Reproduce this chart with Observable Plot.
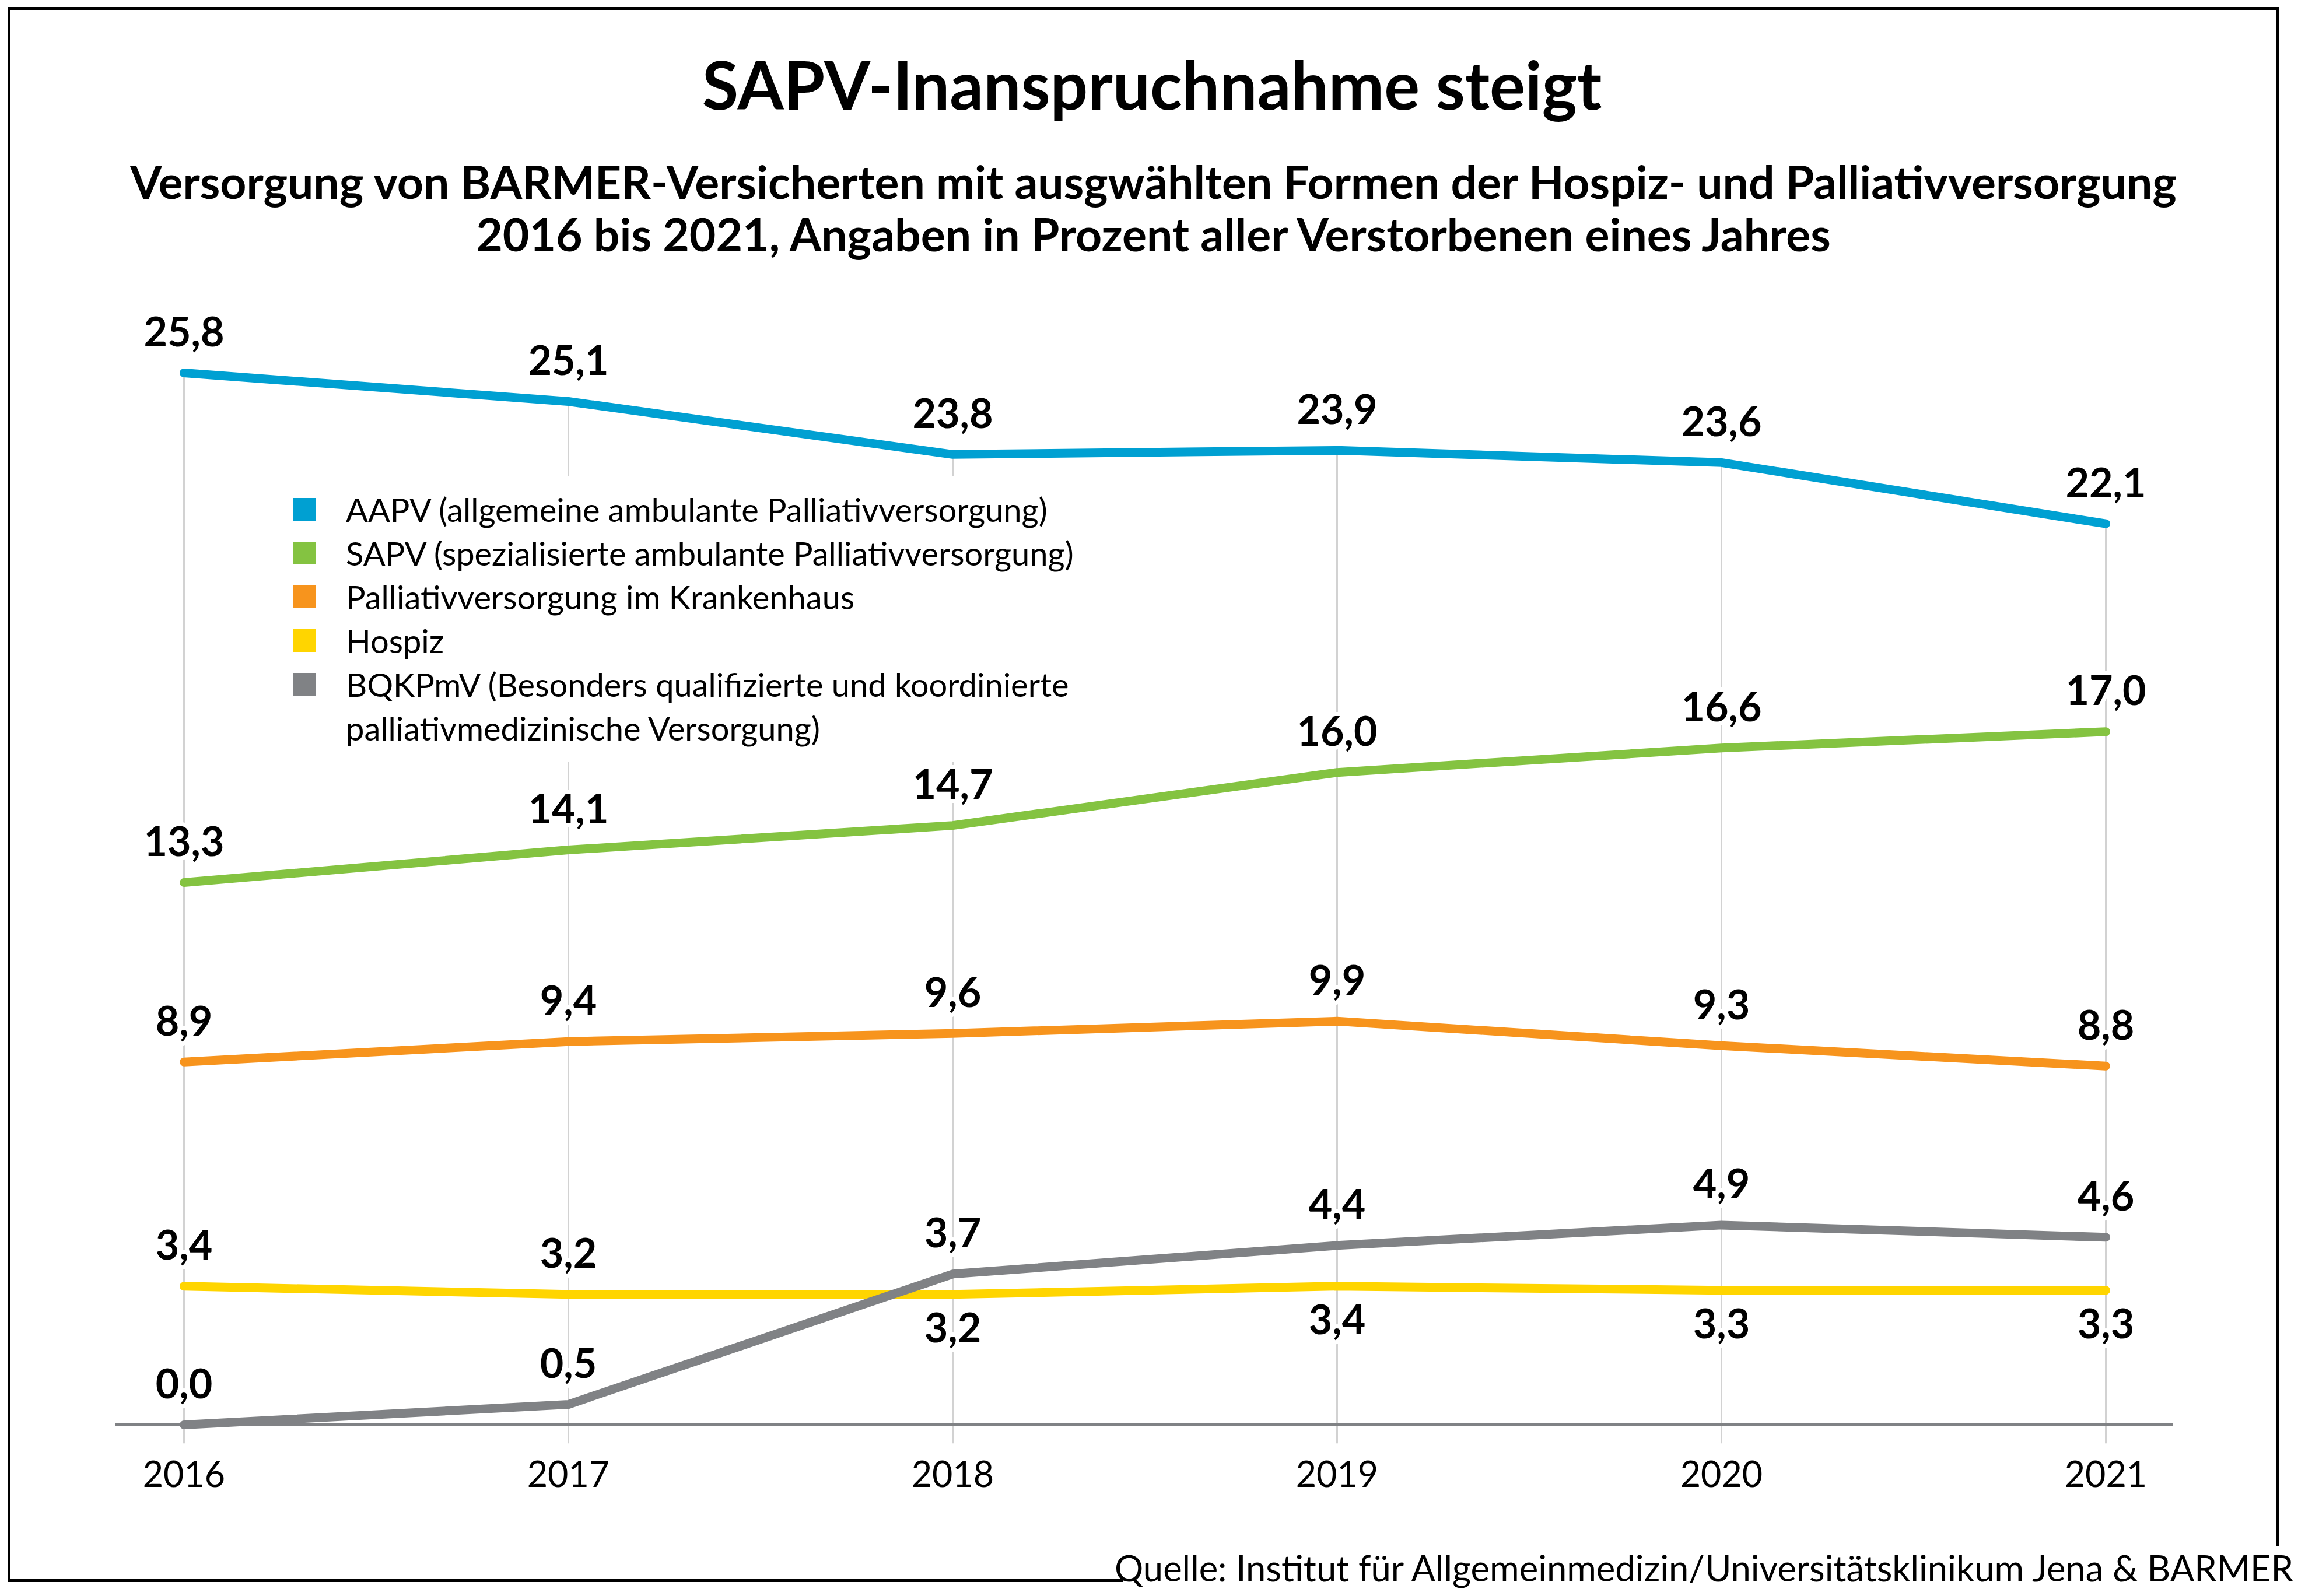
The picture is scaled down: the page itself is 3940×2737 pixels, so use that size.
<!DOCTYPE html>
<html>
<head>
<meta charset="utf-8">
<script src="https://cdn.jsdelivr.net/npm/d3@7"></script>
<script src="https://cdn.jsdelivr.net/npm/@observablehq/plot@0.6"></script>
<style>
  html, body { margin: 0; padding: 0; background: #fff; }
  #page { position: relative; width: 3940px; height: 2737px; background: #fff; font-family: Lato, "Open Sans", sans-serif; color: #000; overflow: hidden; }
  .frame { position: absolute; background: #000; }
  #title { position: absolute; left: 0; width: 3950px; top: 87px; text-align: center; font-size: 114px; font-weight: 700; line-height: 1; }
  #subtitle { position: absolute; left: 0; width: 3955px; top: 266px; text-align: center; font-size: 78.7px; font-weight: 700; line-height: 90px; }
  #chart { position: absolute; left: 0; top: 500px; }
  #legend { position: absolute; left: 480px; top: 816px; padding: 20px 20px 20px 22px; background: #fff; font-size: 56px; line-height: 75px; }
  .item { display: flex; align-items: flex-start; }
  .sw { width: 39px; height: 39px; margin-top: 18px; margin-right: 52px; flex: none; }
  .lab { white-space: pre-line; }
  #source { position: absolute; right: 8px; top: 2658px; font-size: 61.5px; line-height: 1; white-space: nowrap; }
</style>
</head>
<body>
<div id="page">
  <div class="frame" style="left:13px;top:12px;width:3895px;height:5px"></div>
  <div class="frame" style="left:13px;top:12px;width:5px;height:2701px"></div>
  <div class="frame" style="left:3903px;top:12px;width:5px;height:2640px"></div>
  <div class="frame" style="left:13px;top:2708px;width:1912px;height:5px"></div>
  <div id="title"></div>
  <div id="subtitle"></div>
  <div id="chart"></div>
  <div id="legend"></div>
  <div id="source"></div>
</div>
<script>
// ---- data ----
const years = ["2016", "2017", "2018", "2019", "2020", "2021"];
const aapv = [25.8, 25.1, 23.8, 23.9, 23.6, 22.1];
const sapv = [13.3, 14.1, 14.7, 16.0, 16.6, 17.0];
const krankenhaus = [8.9, 9.4, 9.6, 9.9, 9.3, 8.8];
const hospiz = [3.4, 3.2, 3.2, 3.4, 3.3, 3.3];
const bqkpmv = [0.0, 0.5, 3.7, 4.4, 4.9, 4.6];
const seriesKeys = ["AAPV", "SAPV", "Krankenhaus", "Hospiz", "BQKPmV"];
const legendLabels = [
  "AAPV (allgemeine ambulante Palliativversorgung)",
  "SAPV (spezialisierte ambulante Palliativversorgung)",
  "Palliativversorgung im Krankenhaus",
  "Hospiz",
  "BQKPmV (Besonders qualifizierte und koordinierte\npalliativmedizinische Versorgung)"
];
const titleText = "SAPV-Inanspruchnahme steigt";
const subtitleText = "Versorgung von BARMER-Versicherten mit ausgwählten Formen der Hospiz- und Palliativversorgung\n2016 bis 2021, Angaben in Prozent aller Verstorbenen eines Jahres";
const sourceText = "Quelle: Institut für Allgemeinmedizin/Universitätsklinikum Jena & BARMER";

// ---- styling ----
const colors = ["#00a0d2", "#84c341", "#f7941d", "#ffd500", "#808285"];

// ---- build table ----
const seriesValues = [aapv, sapv, krankenhaus, hospiz, bqkpmv];
const rows = [];
seriesKeys.forEach((s, si) => {
  years.forEach((yr, i) => {
    const v = seriesValues[si][i];
    // Hospiz labels go below when the BQKPmV line lies above it
    const below = s === "Hospiz" && bqkpmv[i] > hospiz[i];
    rows.push({series: s, year: yr, value: v, below, label: d3.format(".1f")(v).replace(".", ",")});
  });
});
const grid = years.map((yr, i) => ({year: yr, top: aapv[i]}));

document.getElementById("title").textContent = titleText;
const sub = document.getElementById("subtitle");
sub.style.whiteSpace = "pre-line";
sub.textContent = subtitleText;
document.getElementById("source").textContent = sourceText;

const legend = document.getElementById("legend");
legendLabels.forEach((l, i) => {
  const it = document.createElement("div");
  it.className = "item";
  const sw = document.createElement("div");
  sw.className = "sw";
  sw.style.background = colors[i];
  const lab = document.createElement("div");
  lab.className = "lab";
  lab.textContent = l;
  it.appendChild(sw); it.appendChild(lab);
  legend.appendChild(it);
});

const chart = Plot.plot({
  width: 3940,
  height: 2150,
  marginLeft: 197,
  marginRight: 215,
  marginTop: 100,
  marginBottom: 207,
  style: {fontFamily: "Lato, 'Open Sans', sans-serif", fontSize: "61px", color: "#000", background: "transparent"},
  x: {type: "point", domain: years, range: [313, 3612], padding: 0, label: null},
  y: {domain: [0, 25.8], range: [1943, 139], axis: null},
  color: {domain: seriesKeys, range: colors},
  marks: [
    Plot.ruleX(grid, {x: "year", y1: -0.46, y2: "top", stroke: "#d2d2d2", strokeWidth: 3}),
    Plot.ruleY([0], {stroke: "#808285", strokeWidth: 5}),
    Plot.line(rows, {x: "year", y: "value", z: "series", stroke: "series", strokeWidth: 15, strokeLinecap: "round", strokeLinejoin: "round"}),
    Plot.text(rows.filter(d => !d.below), {x: "year", y: "value", text: "label", dy: -68, fontSize: 70, fontWeight: 700, fill: "#000", stroke: "#fff", strokeWidth: 14, paintOrder: "stroke"}),
    Plot.text(rows.filter(d => d.below), {x: "year", y: "value", text: "label", dy: 60, fontSize: 70, fontWeight: 700, fill: "#000", stroke: "#fff", strokeWidth: 14, paintOrder: "stroke"}),
    Plot.axisX({tickSize: 0, tickPadding: 63, fontSize: 61, fill: "#000", label: null})
  ]
});
document.getElementById("chart").appendChild(chart);
</script>
</body>
</html>
